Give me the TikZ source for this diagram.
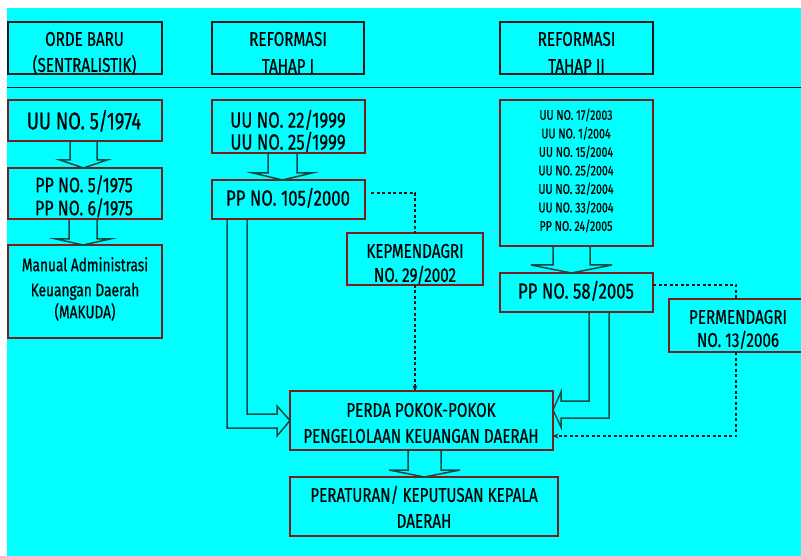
\documentclass[tikz,border=0pt]{standalone}
\usepackage{fontspec}
\setmainfont{Fira Sans}[FakeStretch=0.76,FakeBold=0.6]
\usetikzlibrary{calc,arrows.meta}
\definecolor{bg}{RGB}{0,255,255}
\definecolor{boxred}{RGB}{120,30,30}
\definecolor{arr}{RGB}{15,75,68}
\definecolor{dk}{RGB}{25,25,25}
% box by corners: style, name, x1, y1, x2, y2
\newcommand\mkbox[6]{\node[#1, minimum width={#5-#3}, minimum height={#6-#4}] (#2) at ({(#3+#5)/2},{(#4+#6)/2}) {};}
% text: name, x, y (cap centre), size, text
\newcommand\T[5]{\node[txt, font=\fontsize{#4}{#4}\selectfont] (#1) at (#2,{#3+0.345*#4}) {#5};}
% block arrow down: from, to, dx, half width, wing, head height
\newcommand\bdown[6]{%
  \coordinate (bt) at ($(#1.south)+(#3,0)$);
  \coordinate (bb) at (bt |- #2.north);
  \draw[barrow] ($(bt)+(-#4,0)$) -- ($(bb)+(-#4,-#6)$) -- ($(bb)+({-#4-#5},-#6)$) -- (bb)
     -- ($(bb)+({#4+#5},-#6)$) -- ($(bb)+(#4,-#6)$) -- ($(bt)+(#4,0)$);}
\begin{document}
\begin{tikzpicture}[x=1pt,y=-1pt,
  box/.style={draw=boxred, line width=1.4pt, rectangle, inner sep=0pt, outer sep=0pt},
  hbox/.style={draw=dk, line width=1.2pt, rectangle, inner sep=0pt, outer sep=0pt},
  txt/.style={inner sep=0pt, anchor=base, text=black},
  barrow/.style={draw=arr, line width=1.5pt, line join=miter},
  dline/.style={draw=dk, line width=1.1pt, dash pattern=on 3pt off 2.5pt},
  tip/.style={-{Stealth[length=5.5pt,width=5pt]}}
]
\fill[white] (0,0) rectangle (801,556);
\useasboundingbox (0,0) rectangle (801,556);
\clip (0,0) rectangle (801,556);
\fill[bg] (7,8) rectangle (801,556);
\draw[dk, line width=1pt] (7,88) -- (801,88);

% headers
\mkbox{hbox}{hOB}{8}{22}{162}{74}
\mkbox{hbox}{hR1}{212}{22}{364}{74}
\mkbox{hbox}{hR2}{500}{22}{653}{74}
\T{tOB1}{84.5}{39}{20}{ORDE BARU}
\T{tOB2}{84.5}{65}{20}{(SENTRALISTIK)}
\T{tR11}{288}{39}{20}{REFORMASI}
\T{tR12}{288}{66}{20}{TAHAP I}
\T{tR21}{576.5}{39}{20}{REFORMASI}
\T{tR22}{576.5}{66}{20}{TAHAP II}

% column 1
\mkbox{box}{uu5}{8}{100}{162}{141}
\mkbox{box}{pp5}{8}{168}{162}{219}
\mkbox{box}{mak}{8}{245}{162}{338}
\T{tuu5}{84}{121}{24}{UU NO. 5/1974}
\T{tpp5a}{84}{185}{21}{PP NO. 5/1975}
\T{tpp5b}{84}{208}{21}{PP NO. 6/1975}
\T{tmak1}{85}{265}{18}{Manual Administrasi}
\T{tmak2}{85}{290}{18}{Keuangan Daerah}
\T{tmak3}{85}{312}{18}{(MAKUDA)}

% column 2
\mkbox{box}{uu22}{212}{100}{365}{153}
\mkbox{box}{pp105}{212}{180}{365}{219}
\mkbox{box}{kep}{347}{233}{483}{285}
\T{tuu22a}{288}{120}{22}{UU NO. 22/1999}
\T{tuu22b}{288}{142}{22}{UU NO. 25/1999}
\T{tpp105}{288}{198}{22}{PP NO. 105/2000}
\T{tkep1}{415}{251}{20}{KEPMENDAGRI}
\T{tkep2}{415}{275}{20}{NO. 29/2002}

% column 3
\mkbox{box}{lst}{500}{100}{653}{246}
\mkbox{box}{pp58}{500}{273}{653}{312}
\mkbox{box}{perm}{669}{299}{803}{352}
\T{tl1}{576}{115}{14}{UU NO. 17/2003}
\T{tl2}{576}{133.5}{14}{UU NO. 1/2004}
\T{tl3}{576}{152}{14}{UU NO. 15/2004}
\T{tl4}{576}{170.5}{14}{UU NO. 25/2004}
\T{tl5}{576}{189}{14}{UU NO. 32/2004}
\T{tl6}{576}{207.5}{14}{UU NO. 33/2004}
\T{tl7}{576}{226}{14}{PP NO. 24/2005}
\T{tpp58}{576}{291}{22}{PP NO. 58/2005}
\T{tperm1}{738}{317}{20}{PERMENDAGRI}
\T{tperm2}{738}{340}{20}{NO. 13/2006}

% bottom
\mkbox{box}{perda}{290}{391}{553}{450}
\mkbox{box}{perat}{290}{477}{558}{536}
\T{tperda1}{421}{410}{20}{PERDA POKOK-POKOK}
\T{tperda2}{421}{436}{20}{PENGELOLAAN KEUANGAN DAERAH}
\T{tperat1}{424}{495}{20}{PERATURAN/ KEPUTUSAN KEPALA}
\T{tperat2}{424}{521}{20}{DAERAH}

% block arrows down
\bdown{uu5}{pp5}{-1.5}{13.5}{10}{8}
\bdown{pp5}{mak}{-2}{14}{13}{6}
\bdown{uu22}{pp105}{-6}{14.5}{15}{7}
\bdown{lst}{pp58}{-5}{18.5}{22}{8}
\bdown{perda}{perat}{3}{16.5}{19}{7}

% bent block arrow PP 105 -> PERDA
\coordinate (a1) at ($(pp105.south)+(-61.5,0)$);
\coordinate (a2) at ($(pp105.south)+(-41.5,0)$);
\coordinate (pw) at (perda.west);
\draw[barrow] (a1) -- ($(a1 |- pw)+(0,7.5)$) -- ($(pw)+(-13,7.5)$) -- ($(pw)+(-13,15.5)$) -- (pw)
  -- ($(pw)+(-13,-14.5)$) -- ($(pw)+(-13,-6.5)$) -- ($(a2 |- pw)+(0,-6.5)$) -- (a2);

% bent block arrow PP 58 -> PERDA
\coordinate (b1) at ($(pp58.south)+(32.5,0)$);
\coordinate (b2) at ($(pp58.south)+(12.5,0)$);
\coordinate (pe) at ($(perda.east)+(0,-10.5)$);
\draw[barrow] (b1) -- ($(b1 |- pe)+(0,8)$) -- ($(pe)+(8,8)$) -- ($(pe)+(8,17)$) -- (pe)
  -- ($(pe)+(8,-18)$) -- ($(pe)+(8,-9)$) -- ($(b2 |- pe)+(0,-9)$) -- (b2);

% dashed connectors
\draw[dline] ($(pp105.east)+(6,-6.5)$) -| (kep.north);
\draw[dline, tip] (kep.south) -- (kep.south |- perda.north);
\draw[dline] ($(pp58.east)+(0,-7.5)$) -| (perm.north);
\draw[dline, tip] (perm.south) |- ($(perda.east)+(0,15.5)$);
\end{tikzpicture}
\end{document}
